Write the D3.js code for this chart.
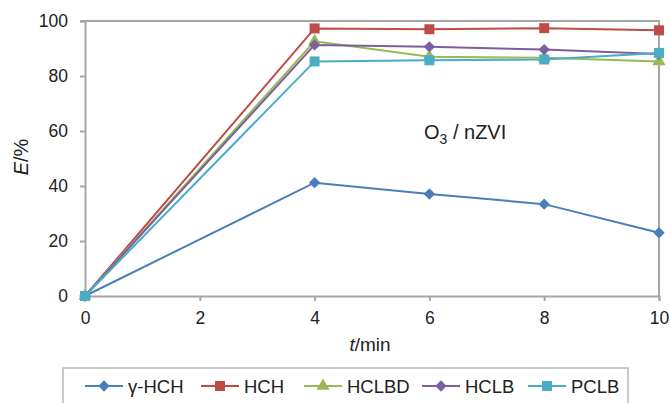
<!DOCTYPE html>
<html>
<head>
<meta charset="utf-8">
<script src="https://cdn.jsdelivr.net/npm/d3@7"></script>
<style>
  body { margin: 0; background: #fff; }
  text { font-family: "Liberation Sans", Arial, sans-serif; fill: #222; }
</style>
</head>
<body>
<div class="canvas"></div>
<script>
// data
const times = [0, 4, 6, 8, 10];
const gammaHCH = [0, 41.2, 37.1, 33.4, 23.0];
const HCH = [0, 97.3, 97.0, 97.4, 96.6];
const HCLBD = [0, 92.6, 87.0, 86.6, 85.3];
const HCLB = [0, 91.3, 90.6, 89.6, 88.0];
const PCLB = [0, 85.3, 85.7, 86.0, 88.4];
const xTicks = [0, 2, 4, 6, 8, 10];
const yTicks = [0, 20, 40, 60, 80, 100];

const series = [
  {name: 'γ-HCH', values: gammaHCH, color: '#4a7ebb', shape: 'diamond'},
  {name: 'HCH', values: HCH, color: '#be4b48', shape: 'square'},
  {name: 'HCLBD', values: HCLBD, color: '#98b954', shape: 'triangle'},
  {name: 'HCLB', values: HCLB, color: '#7d5fa0', shape: 'diamond'},
  {name: 'PCLB', values: PCLB, color: '#4bacc6', shape: 'square'}
];

// 1. dimensions
const width = 670, height = 403;
const margin = {top: 21, right: 11, bottom: 107, left: 85};
const graphWidth = width - margin.left - margin.right;
const graphHeight = height - margin.top - margin.bottom;

const svg = d3.select('.canvas').append('svg')
    .attr('width', width)
    .attr('height', height);

const graph = svg.append('g')
    .attr('transform', `translate(${margin.left},${margin.top})`);

const x = d3.scaleLinear().domain([0, 10]).range([0, graphWidth]);
const y = d3.scaleLinear().domain([0, 100]).range([graphHeight, 0]);

const axisColor = '#a6a6a6';

// frame: top and right border
graph.append('path')
    .attr('d', `M-5,0H${graphWidth}V${graphHeight}`)
    .attr('fill', 'none')
    .attr('stroke', axisColor)
    .attr('stroke-width', 2);

// 2. axes
const xAxis = graph.append('g')
    .attr('transform', `translate(0,${graphHeight})`)
    .call(d3.axisBottom(x).tickValues(xTicks).tickSize(5).tickPadding(11));
const yAxis = graph.append('g')
    .call(d3.axisLeft(y).tickValues(yTicks).tickSize(5).tickPadding(12));

[xAxis, yAxis].forEach(a => {
  a.select('.domain').attr('stroke', axisColor).attr('stroke-width', 2);
  a.selectAll('.tick line').attr('stroke', axisColor).attr('stroke-width', 2);
  a.selectAll('.tick text').attr('font-size', 17.5).attr('fill', '#222')
      .attr('font-family', '"Liberation Sans", Arial, sans-serif');
});

// 3. lines
const line = d3.line().x((d, i) => x(times[i])).y(d => y(d));

const symbolFor = shape => {
  if (shape === 'square') return d3.symbol().type(d3.symbolSquare).size(100)();
  if (shape === 'triangle') return d3.symbol().type(d3.symbolTriangle).size(75)();
  return d3.symbol().type(d3.symbolSquare).size(64)();
};
const rot = shape => shape === 'diamond' ? ' rotate(45)' : '';

series.forEach(s => {
  graph.append('path')
      .datum(s.values)
      .attr('d', line)
      .attr('fill', 'none')
      .attr('stroke', s.color)
      .attr('stroke-width', 2);
});
series.forEach(s => {
  graph.selectAll(null)
      .data(s.values)
      .join('path')
      .attr('d', symbolFor(s.shape))
      .attr('transform', (d, i) => `translate(${x(times[i])},${y(d)})` + rot(s.shape))
      .attr('fill', s.color);
});

// annotation
const note = svg.append('text')
    .attr('x', 424)
    .attr('y', 139)
    .attr('font-size', 20);
note.append('tspan').text('O');
note.append('tspan').attr('font-size', 14).attr('dy', 5).text('3');
note.append('tspan').attr('dy', -5).text(' / nZVI');

// axis titles
const xt = svg.append('text')
    .attr('x', 370)
    .attr('y', 351)
    .attr('text-anchor', 'middle')
    .attr('font-size', 19);
xt.append('tspan').attr('font-style', 'italic').text('t');
xt.append('tspan').text('/min');

const yt = svg.append('text')
    .attr('transform', `translate(28,157) rotate(-90)`)
    .attr('text-anchor', 'middle')
    .attr('font-size', 20);
yt.append('tspan').attr('font-style', 'italic').text('E');
yt.append('tspan').text('/%');

// 4. legend
const legend = svg.append('g');
legend.append('rect')
    .attr('x', 63).attr('y', 368)
    .attr('width', 565).attr('height', 45)
    .attr('fill', '#fff')
    .attr('stroke', '#b8b8b8')
    .attr('stroke-width', 1.5);

const legendX = [85, 201, 304, 422, 528];
series.forEach((s, i) => {
  const g = legend.append('g').attr('transform', `translate(${legendX[i]},386)`);
  g.append('line').attr('x1', 0).attr('x2', 38)
      .attr('stroke', s.color).attr('stroke-width', 2);
  g.append('path').attr('d', symbolFor(s.shape))
      .attr('transform', 'translate(19,0)' + rot(s.shape))
      .attr('fill', s.color);
  g.append('text').attr('x', 43).attr('y', 7)
      .attr('font-size', 18.5).text(s.name);
});
</script>
</body>
</html>
